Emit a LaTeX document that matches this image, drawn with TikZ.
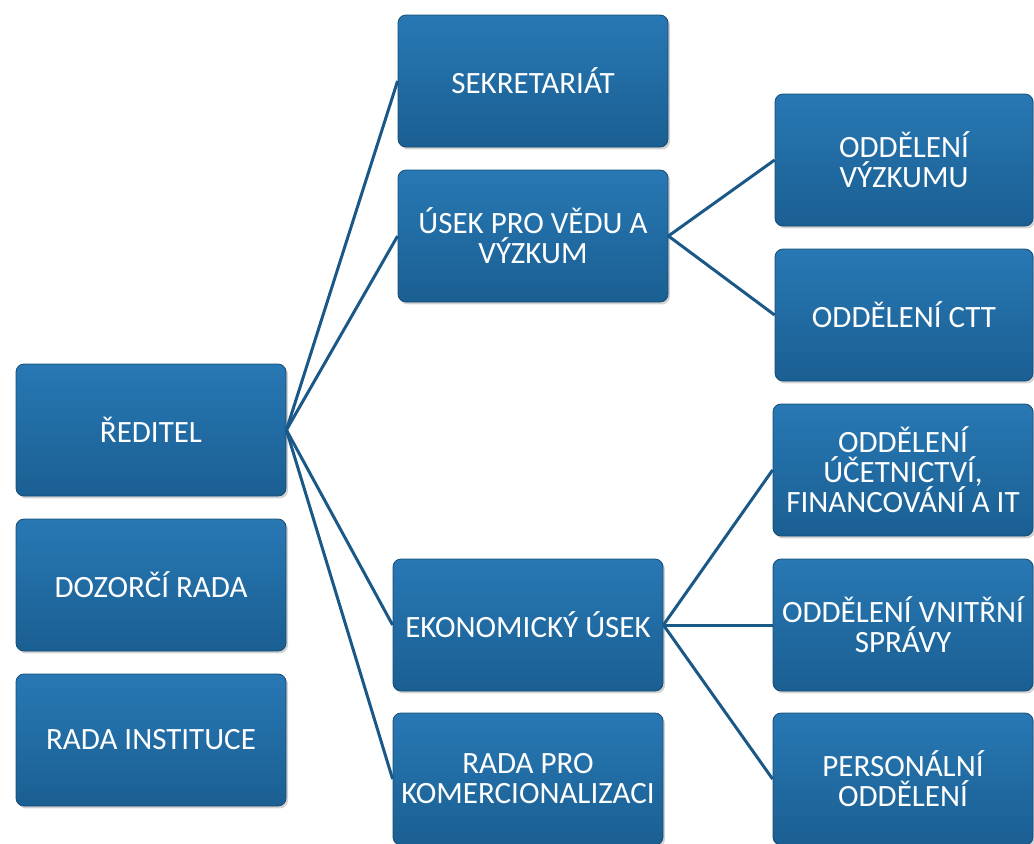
\documentclass[tikz,border=0pt]{standalone}
\usepackage{fontspec}
\setmainfont{Carlito}
\usepackage{tikz}
\usetikzlibrary{shadows}

\definecolor{boxtop}{HTML}{2878B4}
\definecolor{boxbot}{HTML}{1A5F92}
\definecolor{linkblue}{HTML}{1A5887}

\begin{document}
\begin{tikzpicture}[x=0.5pt,y=-0.5pt,
  unit/.style={rounded corners=4pt, top color=boxtop, bottom color=boxbot,
    draw=boxbot!80!black, thin, text=white, align=center,
    minimum width=135pt, minimum height=66pt, inner sep=1pt,
    font=\fontsize{15.5}{15}\selectfont,
    drop shadow={opacity=0.35, shadow xshift=1pt, shadow yshift=-1.2pt}},
  link/.style={linkblue, line width=1.5pt}]
\useasboundingbox (0,0) rectangle (1034,843);

%%%%%%%%%%%%%%%%%%%%%%%%%%%%%%%
\node[unit] (reditel) at (151,430) {ŘEDITEL};
\node[unit] (dozor) at (151,585) {DOZORČÍ RADA};
\node[unit] (rada) at (151,740) {RADA INSTITUCE};

\node[unit] (sekret) at (533,81) {SEKRETARIÁT};
\node[unit] (veda) at (533,236) {ÚSEK PRO VĚDU A\\VÝZKUM};
\node[unit] (ekon) at (528,625) {EKONOMICKÝ ÚSEK};
\node[unit] (komerc) at (528,779) {RADA PRO\\KOMERCIONALIZACI};

\node[unit, minimum width=129pt] (vyzkum) at (904,160) {ODDĚLENÍ\\VÝZKUMU};
\node[unit, minimum width=129pt] (ctt) at (904,315) {ODDĚLENÍ CTT};
\node[unit, minimum width=130pt] (ucet) at (903,470) {ODDĚLENÍ\\ÚČETNICTVÍ,\\FINANCOVÁNÍ A IT};
\node[unit, minimum width=130pt] (vnitr) at (903,625) {ODDĚLENÍ VNITŘNÍ\\SPRÁVY};
\node[unit, minimum width=130pt] (person) at (903,779) {PERSONÁLNÍ\\ODDĚLENÍ};

%%%%%%%%%%%%%%%%%%%%%%%%%%%%%%%
\draw[link] (reditel.east) -- (sekret.west);
\draw[link] (reditel.east) -- (veda.west);
\draw[link] (reditel.east) -- (ekon.west);
\draw[link] (reditel.east) -- (komerc.west);

\draw[link] (veda.east) -- (vyzkum.west);
\draw[link] (veda.east) -- (ctt.west);

\draw[link] (ekon.east) -- (ucet.west);
\draw[link] (ekon.east) -- (vnitr.west);
\draw[link] (ekon.east) -- (person.west);
\end{tikzpicture}
\end{document}
